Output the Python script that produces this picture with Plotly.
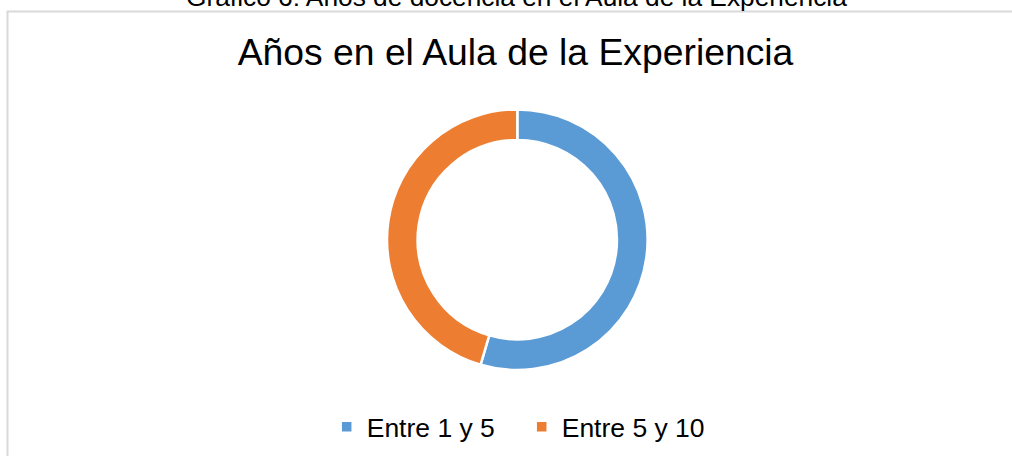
import plotly.graph_objects as go

categories = ["Entre 1 y 5", "Entre 5 y 10"]
values = [6, 5]
colors = ["#5B9BD5", "#ED7D31"]

title_text = "Años en el Aula de la Experiencia"
caption_text = "Gráfico 6: Años de docencia en el Aula de la Experiencia"

W, H = 1012, 456
cx, cy, r = 517.3, 239.7, 130.3

fig = go.Figure()
fig.add_trace(go.Pie(
    labels=categories,
    values=values,
    hole=0.765,
    sort=False,
    direction="clockwise",
    rotation=0,
    textinfo="none",
    hoverinfo="label+value+percent",
    marker=dict(colors=colors, line=dict(color="white", width=2.5)),
    domain=dict(x=[(cx - r) / W, (cx + r) / W], y=[1 - (cy + r) / H, 1 - (cy - r) / H]),
))

fig.update_layout(
    width=W, height=H,
    margin=dict(l=0, r=0, t=0, b=0),
    paper_bgcolor="white",
    font=dict(family="Liberation Sans, Arial, sans-serif", color="#000000"),
    title=dict(text=title_text, x=515.5 / W, xanchor="center", y=1 - 52.4 / H, yanchor="middle",
               font=dict(size=37.3, color="#000000")),
    showlegend=True,
    legend=dict(orientation="h", x=(341.7 - 15) / W, xanchor="left", y=1 - 427 / H, yanchor="middle",
                font=dict(size=26.5, color="#000000"), entrywidth=150, entrywidthmode="pixels",
                bgcolor="rgba(0,0,0,0)"),
    shapes=[dict(type="rect", xref="paper", yref="paper", x0=7.5 / W, x1=1.05, y0=-0.05, y1=1 - 11.5 / H,
                 line=dict(color="#d9d9d9", width=2), fillcolor="rgba(0,0,0,0)", layer="below")],
    annotations=[dict(text=caption_text, xref="paper", yref="paper", x=516 / W, xanchor="center",
                      y=1 + 3.1 / H, yanchor="middle", showarrow=False,
                      font=dict(size=26.3, color="#000000"))],
)

fig.write_html("out.html", config={"displayModeBar": False},
               post_script="document.body.style.margin='0';document.body.style.overflow='hidden';")
